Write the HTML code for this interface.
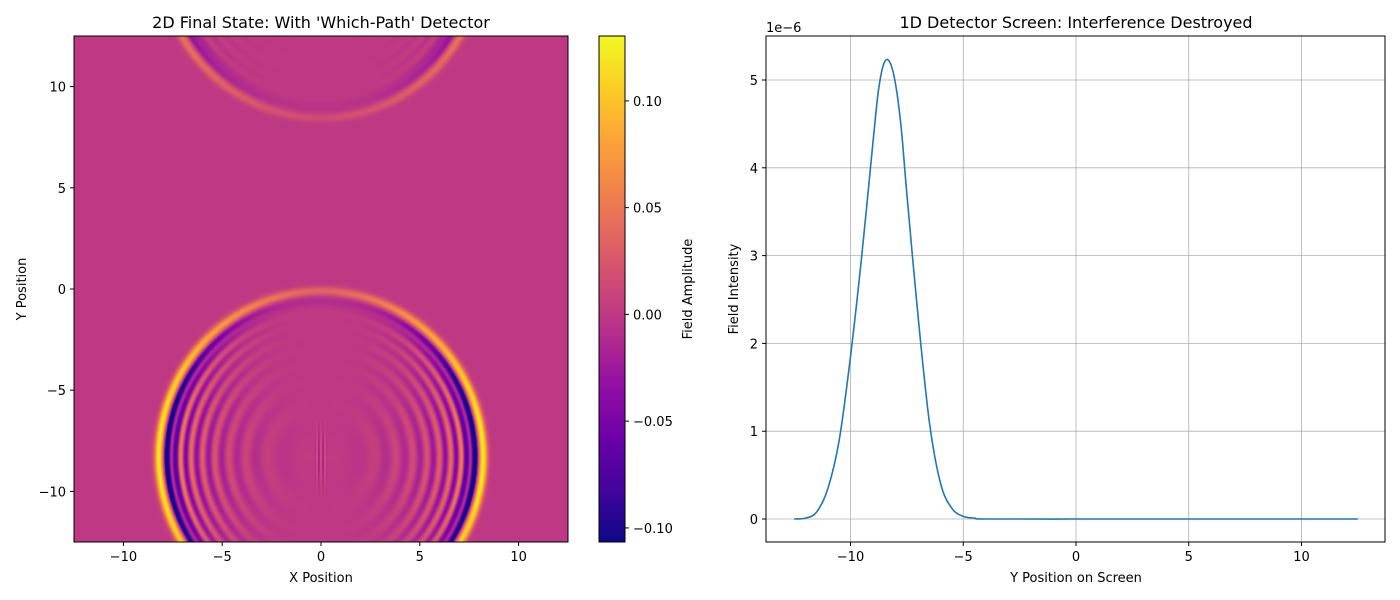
<!DOCTYPE html>
<html><head><meta charset="utf-8"><style>
body{margin:0;background:#fff;width:1400px;height:600px;overflow:hidden;font-family:"Liberation Sans","DejaVu Sans",sans-serif}
#wrap{position:relative;width:1400px;height:600px}
canvas{position:absolute;left:74px;top:36px}
svg{position:absolute;left:0;top:0}
text{font-family:"DejaVu Sans","Liberation Sans",sans-serif;fill:#000}
</style></head><body>
<div id="wrap">
<canvas id="hm" width="494" height="506"></canvas>
<svg id="s" width="1400" height="600">
<defs><linearGradient id="plasma" x1="0" y1="1" x2="0" y2="0">
<stop offset="0" stop-color="#0d0887"/><stop offset="0.1" stop-color="#41049d"/><stop offset="0.2" stop-color="#6a00a8"/><stop offset="0.3" stop-color="#8f0da4"/><stop offset="0.4" stop-color="#b12a90"/><stop offset="0.5" stop-color="#cc4778"/><stop offset="0.6" stop-color="#e16462"/><stop offset="0.7" stop-color="#f2844b"/><stop offset="0.8" stop-color="#fca636"/><stop offset="0.9" stop-color="#fcce25"/><stop offset="1" stop-color="#f0f921"/></linearGradient></defs>
</svg>
</div>
<script>
// ---- data ----
const heatXTicks=[-10,-5,0,5,10];
const heatYTicks=[-10,-5,0,5,10];
const cbTicks=[-0.10,-0.05,0.00,0.05,0.10];
const cbTickLabels=["\u22120.10","\u22120.05","0.00","0.05","0.10"];
const screenX=[-12.5,-12,-11.5,-11,-10.5,-10,-9.5,-9,-8.75,-8.5,-8.25,-8,-7.75,-7.5,-7,-6.5,-6,-5.5,-5,-4.5,-4,0,5,10,12.5];
const screenI=[0,0.01,0.08,0.35,0.9,1.85,3.0,4.3,4.9,5.2,5.2,4.95,4.45,3.7,2.3,1.1,0.4,0.12,0.03,0.01,0,0,0,0,0];
const rightXTicks=[-10,-5,0,5,10];
const rightYTicks=[0,1,2,3,4,5];

const NS="http://www.w3.org/2000/svg";
const svg=document.getElementById('s');
function el(t,a,txt){const e=document.createElementNS(NS,t);for(const k in a)e.setAttribute(k,a[k]);if(txt!==undefined)e.textContent=txt;svg.appendChild(e);return e;}
const fmt=v=>v<0?"\u2212"+(-v):""+v;

const stops=[[13,8,135],[65,4,157],[106,0,168],[143,13,164],[177,42,144],[204,71,120],[225,100,98],[242,132,75],[252,166,54],[252,206,37],[240,249,33]];
function plasma(t){t=Math.max(0,Math.min(1,t))*10;const i=Math.min(9,Math.floor(t)),f=t-i;const a=stops[i],b=stops[i+1];return [a[0]+(b[0]-a[0])*f,a[1]+(b[1]-a[1])*f,a[2]+(b[2]-a[2])*f];}
const vmin=-0.1066,vmax=0.1304;

const L={x0:74,x1:568,y0:36,y1:542};
const hx=v=>L.x0+(v+12.5)/25*(L.x1-L.x0);
const hy=v=>L.y1-(v+12.5)/25*(L.y1-L.y0);
(function(){
 const c=document.getElementById('hm'),ctx=c.getContext('2d');const W=494,H=506;
 const img=ctx.createImageData(W,H);
 function ring(x,y,cy,R,amp,fr){
  const dx=x,dy=y-cy,r=Math.sqrt(dx*dx+dy*dy);const d=r-R;
  const h=Math.pow(Math.abs(dx)/Math.max(r,0.01),2);
  const a=amp*(0.3+0.7*Math.pow(h,0.8));
  const an=amp*(0.1+0.9*Math.pow(h,1.2));
  let v=a*0.125*Math.exp(-Math.pow((d+0.05)/0.22,2))-an*0.10*Math.exp(-Math.pow((d+0.55)/0.25,2));
  if(r<R-0.3&&fr>0){
   const env=Math.exp(-(R-r)/2.0)*Math.pow(h,1.5)*fr;
   v+=0.10*env*Math.cos(r*r*0.873);}
  return v;}
 for(let j=0;j<H;j++){const y=12.5-(j+0.5)/H*25;
  for(let i=0;i<W;i++){const x=-12.5+(i+0.5)/W*25;
   let v=ring(x,y,-8.3,8.25,1,1)+ring(x,y,16.6,8.2,0.45,0.2);
   if(Math.abs(x)<0.3&&y<-6.5&&y>-10.3)v+=0.03*Math.cos(x*30)*Math.exp(-Math.pow((y+8.3)/1.3,2));
   const col=plasma((v-vmin)/(vmax-vmin));const k=(j*W+i)*4;
   img.data[k]=col[0];img.data[k+1]=col[1];img.data[k+2]=col[2];img.data[k+3]=255;}}
 ctx.putImageData(img,0,0);
})();
el('rect',{x:L.x0,y:L.y0,width:L.x1-L.x0,height:L.y1-L.y0,fill:'none',stroke:'#000','stroke-width':1,});
heatXTicks.forEach(v=>{const x=hx(v);el('line',{x1:x,x2:x,y1:L.y1,y2:L.y1+4,stroke:'#000'});
 const t=el('text',{x:x,y:L.y1+19,'font-size':13,'text-anchor':'middle'},fmt(v));});
heatYTicks.forEach(v=>{const y=hy(v);el('line',{x1:L.x0-4,x2:L.x0,y1:y,y2:y,stroke:'#000'});
 const t=el('text',{x:L.x0-8,y:y+5,'font-size':13,'text-anchor':'end'},fmt(v));});
el('text',{x:321,y:582,'font-size':13,'text-anchor':'middle',},'X Position');
el('text',{x:26,y:289,'font-size':13,'text-anchor':'middle',transform:'rotate(-90 26 289)',},'Y Position');
el('text',{x:321,y:28,'font-size':16,'text-anchor':'middle',},"2D Final State: With 'Which-Path' Detector");

const C={x0:599,x1:625,y0:36,y1:542};
const cy=v=>C.y1-(v-vmin)/(vmax-vmin)*(C.y1-C.y0);
el('rect',{x:C.x0,y:C.y0,width:C.x1-C.x0,height:C.y1-C.y0,fill:'url(#plasma)',stroke:'#000',});
cbTicks.forEach((v,i)=>{const y=cy(v);el('line',{x1:C.x1,x2:C.x1+4,y1:y,y2:y,stroke:'#000'});
 const t=el('text',{x:C.x1+8,y:y+5,'font-size':13},cbTickLabels[i]);});
el('text',{x:692,y:289,'font-size':13,'text-anchor':'middle',transform:'rotate(-90 692 289)',},'Field Amplitude');

const R={x0:766,x1:1385,y0:36,y1:542};
const rx=v=>1076+v*22.55;
const ry=v=>519-v*87.8;
el('rect',{x:R.x0,y:R.y0,width:R.x1-R.x0,height:R.y1-R.y0,fill:'#fff',});
rightXTicks.forEach(v=>{const x=rx(v);el('line',{x1:x,x2:x,y1:R.y0,y2:R.y1,stroke:'#b0b0b0','stroke-width':0.8});
 el('line',{x1:x,x2:x,y1:R.y1,y2:R.y1+4,stroke:'#000'});
 const t=el('text',{x:x,y:R.y1+19,'font-size':13,'text-anchor':'middle'},fmt(v));});
rightYTicks.forEach(v=>{const y=ry(v);el('line',{x1:R.x0,x2:R.x1,y1:y,y2:y,stroke:'#b0b0b0','stroke-width':0.8});
 el('line',{x1:R.x0-4,x2:R.x0,y1:y,y2:y,stroke:'#000'});
 const t=el('text',{x:R.x0-8,y:y+5,'font-size':13,'text-anchor':'end'},""+v);});
let d='';const P=screenX.map((x,i)=>[rx(x),ry(screenI[i])]);
d='M'+P[0][0]+','+P[0][1];
for(let i=0;i<P.length-1;i++){const p0=P[Math.max(0,i-1)],p1=P[i],p2=P[i+1],p3=P[Math.min(P.length-1,i+2)];
 d+=` C${p1[0]+(p2[0]-p0[0])/6},${p1[1]+(p2[1]-p0[1])/6} ${p2[0]-(p3[0]-p1[0])/6},${p2[1]-(p3[1]-p1[1])/6} ${p2[0]},${p2[1]}`;}
el('path',{d:d,fill:'none',stroke:'#1f77b4','stroke-width':1.6,});
el('rect',{x:R.x0,y:R.y0,width:R.x1-R.x0,height:R.y1-R.y0,fill:'none',stroke:'#000',});
el('text',{x:766,y:32,'font-size':13,},'1e\u22126');
el('text',{x:1076,y:582,'font-size':13,'text-anchor':'middle',},'Y Position on Screen');
el('text',{x:738,y:289,'font-size':13,'text-anchor':'middle',transform:'rotate(-90 738 289)',},'Field Intensity');
el('text',{x:1076,y:28,'font-size':16,'text-anchor':'middle',},'1D Detector Screen: Interference Destroyed');
</script>
</body></html>
